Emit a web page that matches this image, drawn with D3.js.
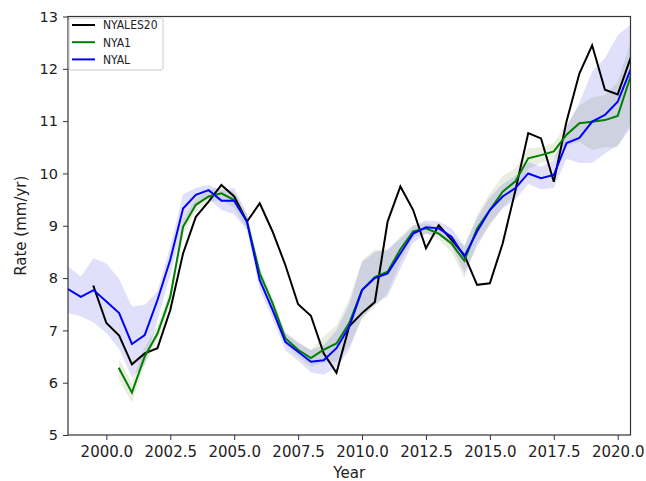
<!DOCTYPE html>
<html>
<head>
<meta charset="utf-8">
<script src="https://cdn.jsdelivr.net/npm/d3@7"></script>
<style>
  html, body { margin: 0; padding: 0; background: #fff; }
  svg { display: block; }
  .tick text { font-family: "DejaVu Sans", sans-serif; fill: #222; }
</style>
</head>
<body>
<svg id="chart" width="646" height="481"></svg>
<script>
// ---------------- data ----------------
const years = [1998.5, 1999, 1999.5, 2000, 2000.5, 2001, 2001.5, 2002, 2002.5, 2003, 2003.5, 2004, 2004.5, 2005, 2005.5,
  2006, 2006.5, 2007, 2007.5, 2008, 2008.5, 2009, 2009.5, 2010, 2010.5, 2011, 2011.5, 2012, 2012.5, 2013, 2013.5,
  2014, 2014.5, 2015, 2015.5, 2016, 2016.5, 2017, 2017.5, 2018, 2018.5, 2019, 2019.5, 2020, 2020.5];

const seriesNames = ["NYALES20", "NYA1", "NYAL"];

const nyales20 = [null, null, 7.84, 7.14, 6.90, 6.35, 6.56, 6.66, 7.39, 8.47, 9.17, 9.46, 9.78, 9.56, 9.08,
  9.43, 8.89, 8.25, 7.50, 7.28, 6.56, 6.19, 7.08, 7.33, 7.54, 9.08, 9.75, 9.30, 8.57, 9.01, 8.73,
  8.44, 7.87, 7.90, 8.66, 9.68, 10.77, 10.67, 9.84, 11.00, 11.91, 12.45, 11.60, 11.51, 12.20];

const nya1 = [null, null, null, null, 6.27, 5.81, 6.50, 6.94, 7.64, 8.98, 9.40, 9.56, 9.62, 9.49, 9.08,
  8.09, 7.52, 6.85, 6.63, 6.47, 6.63, 6.75, 7.14, 7.77, 8.02, 8.12, 8.55, 8.89, 8.95, 8.85, 8.66,
  8.33, 8.95, 9.30, 9.65, 9.85, 10.29, 10.35, 10.42, 10.74, 10.96, 10.99, 11.02, 11.10, 11.85];

const nyal = [7.79, 7.64, 7.77, 7.55, 7.33, 6.74, 6.91, 7.58, 8.35, 9.33, 9.59, 9.68, 9.48, 9.48, 9.08,
  7.96, 7.39, 6.78, 6.59, 6.40, 6.43, 6.66, 7.07, 7.77, 8.00, 8.09, 8.47, 8.85, 8.97, 8.95, 8.79,
  8.41, 8.89, 9.30, 9.56, 9.72, 10.00, 9.91, 9.97, 10.58, 10.68, 10.99, 11.12, 11.37, 11.98];

// uncertainty envelopes
const nyalLower = [7.33, 7.27, 7.15, 6.95, 6.65, 6.10, 6.35, 7.20, 8.05, 9.00, 9.40, 9.52, 9.30, 9.22, 8.92,
  7.78, 7.22, 6.62, 6.42, 6.20, 6.15, 6.30, 6.62, 7.25, 7.50, 7.65, 8.18, 8.68, 8.84, 8.82, 8.62,
  8.10, 8.60, 9.05, 9.33, 9.50, 9.80, 9.70, 9.72, 10.28, 10.20, 10.20, 10.38, 10.54, 10.86];
const nyalUpper = [8.22, 8.03, 8.38, 8.28, 7.98, 7.45, 7.49, 7.75, 8.60, 9.60, 9.72, 9.78, 9.68, 9.72, 9.22,
  8.12, 7.55, 6.95, 6.78, 6.62, 6.72, 7.00, 7.50, 8.30, 8.50, 8.55, 8.75, 9.00, 9.10, 9.08, 8.95,
  8.62, 9.15, 9.55, 9.80, 9.95, 10.22, 10.13, 10.25, 10.88, 11.35, 11.95, 12.20, 12.64, 12.84];

const nya1Lower = [null, null, null, null, 6.05, 5.62, 6.35, 6.80, 7.50, 8.85, 9.28, 9.44, 9.50, 9.34, 8.93,
  7.96, 7.41, 6.74, 6.50, 6.31, 6.38, 6.40, 6.70, 7.22, 7.45, 7.72, 8.30, 8.77, 8.85, 8.73, 8.50,
  8.00, 8.68, 9.00, 9.35, 9.60, 10.08, 10.20, 10.26, 10.54, 10.60, 10.45, 10.50, 10.50, 10.95];
const nya1Upper = [null, null, null, null, 6.45, 6.00, 6.68, 7.08, 7.78, 9.12, 9.52, 9.68, 9.74, 9.64, 9.23,
  8.22, 7.63, 6.96, 6.76, 6.63, 6.88, 7.10, 7.60, 8.34, 8.55, 8.52, 8.80, 9.01, 9.05, 8.97, 8.82,
  8.60, 9.20, 9.62, 9.95, 10.10, 10.48, 10.50, 10.58, 10.94, 11.30, 11.45, 11.50, 11.75, 12.50];

const xTicks = [2000, 2002.5, 2005, 2007.5, 2010, 2012.5, 2015, 2017.5, 2020];
const yTicks = [5, 6, 7, 8, 9, 10, 11, 12, 13];

// ---------------- layout ----------------
const svg = d3.select("#chart");
const L = 68, R = 630.5, T = 16.5, B = 435;

const x = d3.scaleLinear().domain([1998.5, 2020.5]).range([L, R]);
const y = d3.scaleLinear().domain([5, 13]).range([B, T]);

const colors = { NYALES20: "#000000", NYA1: "#008000", NYAL: "#0000ff" };

svg.append("clipPath").attr("id", "clip")
  .append("rect").attr("x", L).attr("y", T).attr("width", R - L).attr("height", B - T);

const plot = svg.append("g").attr("clip-path", "url(#clip)");

const area = (lo, hi) => d3.area()
  .defined((d, i) => lo[i] != null && hi[i] != null)
  .x((d, i) => x(years[i]))
  .y0((d, i) => y(lo[i]))
  .y1((d, i) => y(hi[i]));

plot.append("path").datum(years)
  .attr("d", area(nya1Lower, nya1Upper))
  .attr("fill", "#6a8a20").attr("fill-opacity", 0.14);

plot.append("path").datum(years)
  .attr("d", area(nyalLower, nyalUpper))
  .attr("fill", "#2020e0").attr("fill-opacity", 0.14);

const line = vals => d3.line()
  .defined((d, i) => vals[i] != null)
  .x((d, i) => x(years[i]))
  .y((d, i) => y(vals[i]));

[[nyales20, "NYALES20"], [nya1, "NYA1"], [nyal, "NYAL"]].forEach(([vals, name]) => {
  plot.append("path").datum(years)
    .attr("d", line(vals))
    .attr("fill", "none")
    .attr("stroke", colors[name])
    .attr("stroke-width", 2)
    .attr("stroke-linejoin", "miter")
    .attr("stroke-linecap", "square");
});

// ---------------- axes ----------------
const xAxis = svg.append("g").attr("transform", `translate(0,${B})`)
  .call(d3.axisBottom(x).tickValues(xTicks).tickFormat(d3.format(".1f")).tickSize(5).tickPadding(6));
const yAxis = svg.append("g").attr("transform", `translate(${L},0)`)
  .call(d3.axisLeft(y).tickValues(yTicks).tickFormat(d3.format("d")).tickSize(5).tickPadding(5));

[xAxis, yAxis].forEach(g => {
  g.select(".domain").remove();
  g.selectAll(".tick line").attr("stroke", "#333").attr("stroke-width", 1);
});
xAxis.selectAll(".tick text").attr("font-size", 15);
yAxis.selectAll(".tick text").attr("font-size", 14.5);

// frame
svg.append("rect").attr("x", L).attr("y", T).attr("width", R - L).attr("height", B - T)
  .attr("fill", "none").attr("stroke", "#333").attr("stroke-width", 1.2);

// axis titles
svg.append("text").attr("x", (L + R) / 2).attr("y", 478)
  .attr("text-anchor", "middle").attr("font-family", "DejaVu Sans, sans-serif")
  .attr("font-size", 15).attr("fill", "#222").text("Year");

svg.append("text")
  .attr("transform", `translate(26,${(T + B) / 2}) rotate(-90)`)
  .attr("text-anchor", "middle").attr("font-family", "DejaVu Sans, sans-serif")
  .attr("font-size", 15).attr("fill", "#222").text("Rate (mm/yr)");

// ---------------- legend ----------------
const lg = svg.append("g");
lg.append("rect").attr("x", 69).attr("y", 18).attr("width", 94).attr("height", 52)
  .attr("rx", 2).attr("fill", "#fff").attr("fill-opacity", 0.85)
  .attr("stroke", "#ccc").attr("stroke-width", 1);
seriesNames.forEach((name, i) => {
  const cy = 25 + i * 17.2;
  lg.append("line").attr("x1", 72).attr("x2", 95).attr("y1", cy).attr("y2", cy)
    .attr("stroke", colors[name]).attr("stroke-width", 2);
  lg.append("text").attr("x", 103).attr("y", cy + 4.3)
    .attr("font-family", "DejaVu Sans Condensed, Liberation Sans Narrow, DejaVu Sans, sans-serif")
    .attr("font-size", 12).attr("fill", "#222").text(name);
});
</script>
</body>
</html>
